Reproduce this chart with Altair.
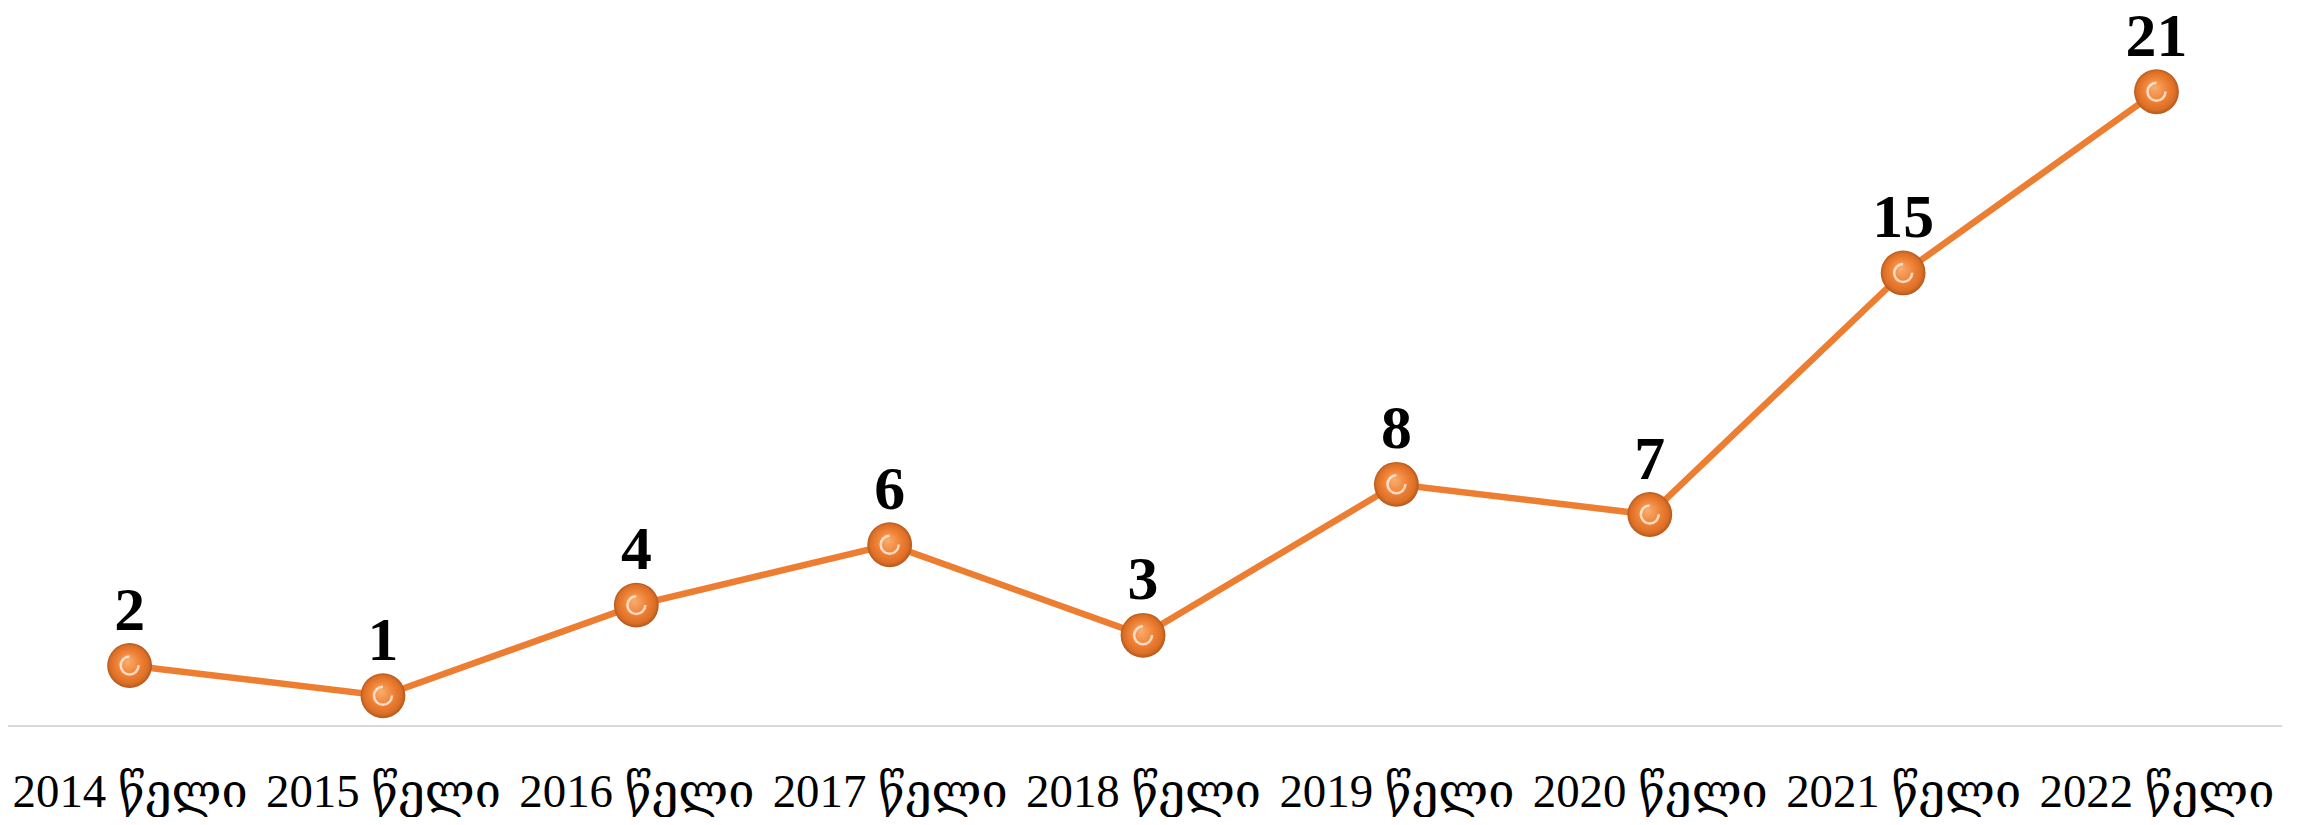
import altair as alt
import pandas as pd

years = ["2014 წელი", "2015 წელი", "2016 წელი", "2017 წელი", "2018 წელი",
         "2019 წელი", "2020 წელი", "2021 წელი", "2022 წელი"]
values = [2, 1, 4, 6, 3, 8, 7, 15, 21]

df = pd.DataFrame({"year": years, "value": values})
base_df = pd.DataFrame({"v": [0]})

ORANGE = "#ED7D31"
W, H = 2278, 697

x_enc = alt.X("year:N", sort=None,
              scale=alt.Scale(type="point", padding=0.48),
              axis=alt.Axis(title=None, domain=False, ticks=False, grid=False,
                            labelFont="Liberation Serif, DejaVu Serif",
                            labelFontSize=47, labelColor="#000000",
                            labelPadding=81, labelBaseline="alphabetic",
                            labelAngle=0, labelLimit=0, labelOverlap=False))
y_enc = alt.Y("value:Q", scale=alt.Scale(domain=[0, 23], nice=False, zero=True),
              axis=None)

base = alt.Chart(df).encode(x=x_enc, y=y_enc)

rule = alt.Chart(base_df).mark_rule(color="#D9D9D9", strokeWidth=2).encode(
    x=alt.value(0), x2=alt.value(2282),
    y=alt.Y("v:Q", scale=alt.Scale(domain=[0, 23]), axis=None))

line = base.mark_line(color=ORANGE, strokeWidth=6.5)

sphere_fill = alt.Gradient(
    gradient="radial",
    stops=[alt.GradientStop(offset=0, color="#F9AE70"),
           alt.GradientStop(offset=0.5, color="#EF8236"),
           alt.GradientStop(offset=0.82, color="#DC6F26"),
           alt.GradientStop(offset=1, color="#A9521A")],
    x1=0.45, y1=0.4, r1=0.0, x2=0.5, y2=0.5, r2=0.52)

points = base.mark_point(shape="circle", filled=True, size=2025, fill=sphere_fill,
                         strokeWidth=0, opacity=1)

ring = base.mark_point(shape="circle", filled=False, size=324, stroke="#FFFFFF",
                       strokeWidth=2.5, opacity=0.7, strokeDash=[42, 14])

labels = base.mark_text(font="Liberation Serif", fontWeight="bold", fontSize=62,
                        color="#000000", baseline="alphabetic", dy=-36).encode(
    text="value:Q")

chart = alt.layer(rule, line, points, ring, labels).properties(
    width=W, height=H,
    background="#FFFFFF",
    autosize=alt.AutoSizeParams(type="none"),
    padding={"left": 0, "top": 22, "right": 30, "bottom": 90},
).configure_view(stroke=None, strokeWidth=0)

chart.save("out.html", embed_options={"renderer": "svg", "actions": False})
